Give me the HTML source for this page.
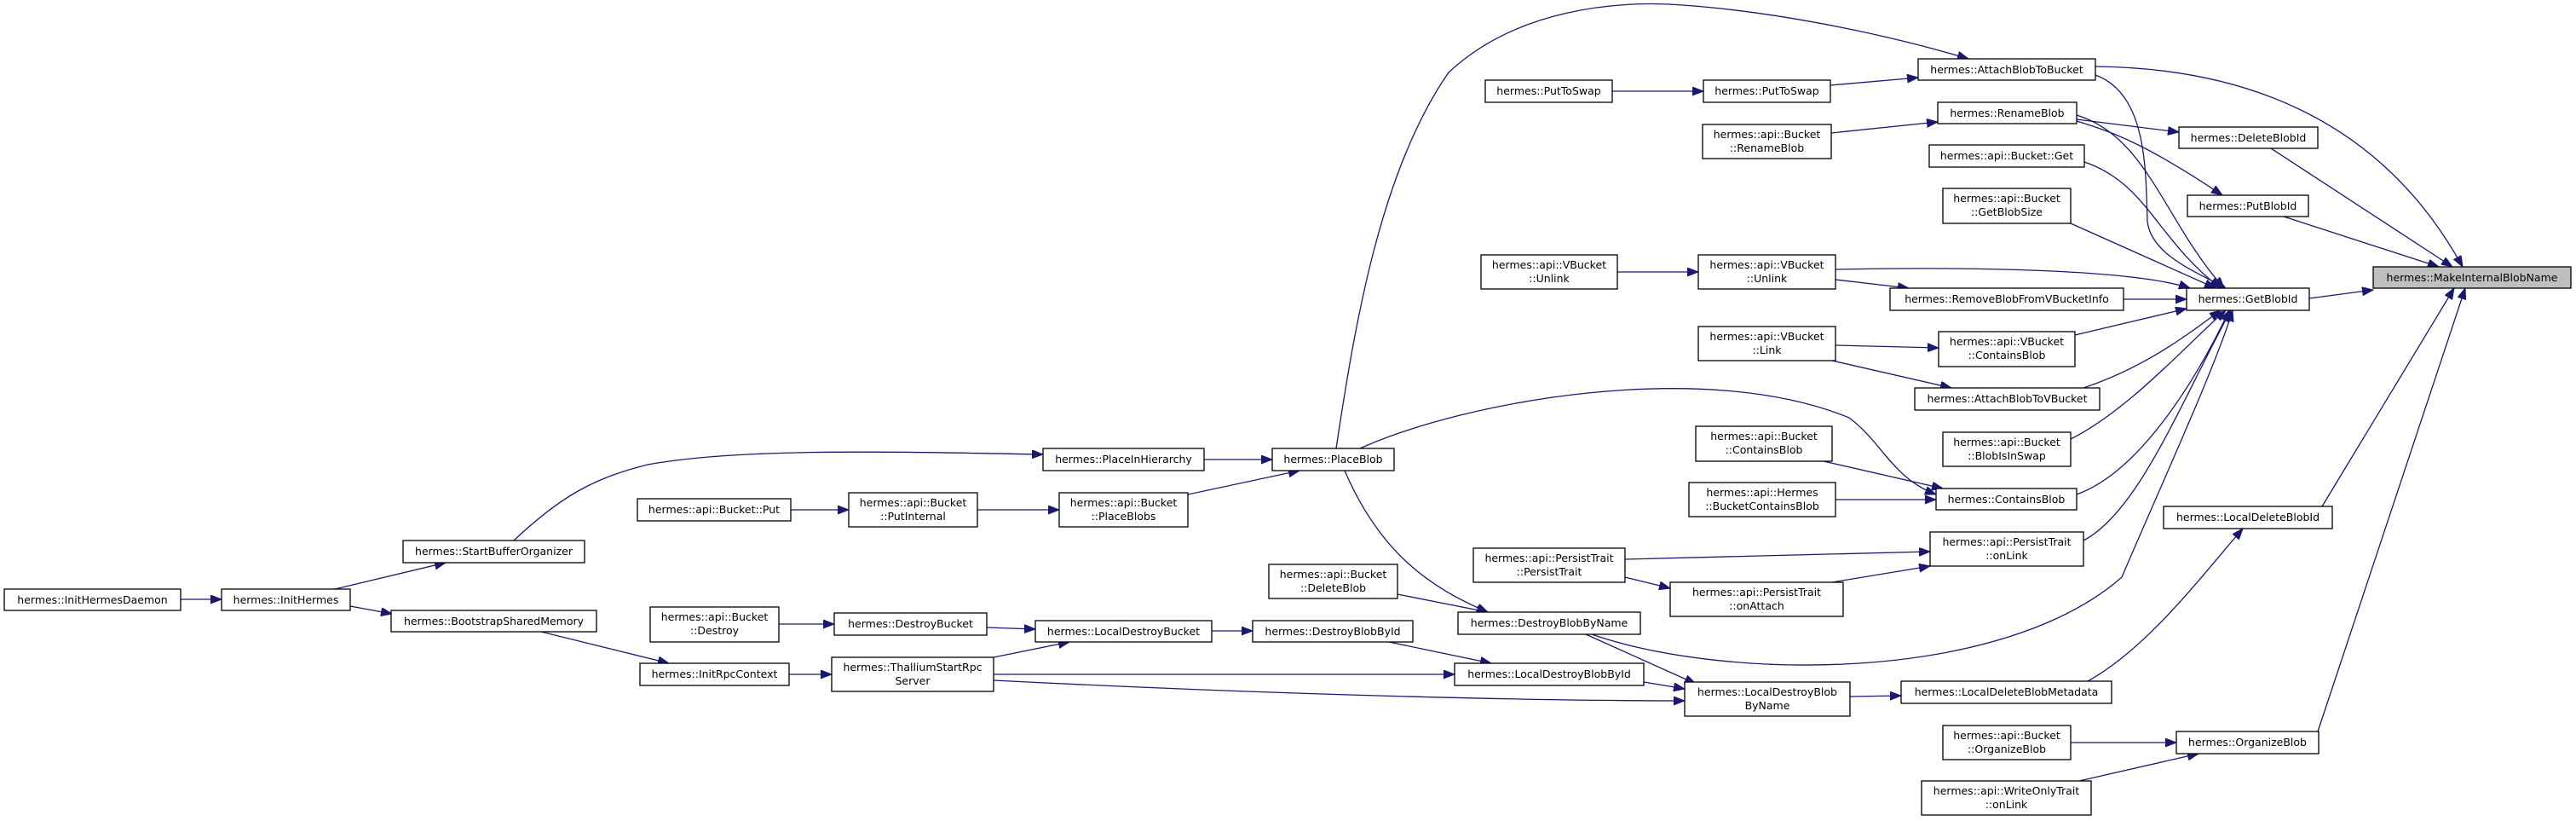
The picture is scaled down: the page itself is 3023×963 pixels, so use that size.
<!DOCTYPE html>
<html><head><meta charset="utf-8"><style>
html,body{margin:0;padding:0;background:#fff;}
svg{display:block}
text{font-family:"DejaVu Sans","Liberation Sans",sans-serif;font-size:12.5px;fill:#000;text-anchor:middle}
rect{fill:#fff;stroke:#000;stroke-width:1.3}
path{fill:none;stroke:#191970;stroke-width:1.3}
</style></head><body>
<svg width="3023" height="963" viewBox="0 0 3023 963" xmlns="http://www.w3.org/2000/svg">
<defs><marker id="a" markerUnits="userSpaceOnUse" markerWidth="14" markerHeight="12" refX="13" refY="5" orient="auto"><path d="M0,0 L13,5 L0,10 Z" style="fill:#191970;stroke:#191970;stroke-width:1"/></marker></defs>
<g marker-end="url(#a)">
<path d="M212,703 L260,703"/>
<path d="M393,691 L523,660"/>
<path d="M411,711 L460,720"/>
<path d="M635,741 L785,778"/>
<path d="M603,634 C660,580 700,560 760,545 C870,525 1050,530 1224,533"/>
<path d="M926,791 L976,791"/>
<path d="M928,598 L996,598"/>
<path d="M1147,598 L1243,598"/>
<path d="M1394,580 L1525,552"/>
<path d="M1413,539 L1493,539"/>
<path d="M914,732 L979,732"/>
<path d="M1158,736 L1215,738"/>
<path d="M1166,771 L1255,753"/>
<path d="M1166,791 L1707,791"/>
<path d="M1166,798 C1500,815 1800,822 1977,822"/>
<path d="M1422,740 L1470,740"/>
<path d="M1630,753 L1750,778"/>
<path d="M1929,800 L1977,808"/>
<path d="M1640,697 L1746,718"/>
<path d="M1578,552 C1620,650 1680,690 1746,718"/>
<path d="M1861,744 L1990,802"/>
<path d="M1868,744 C2030,800 2350,800 2490,677 C2540,560 2600,430 2620,364"/>
<path d="M1907,656 L2265,647"/>
<path d="M1907,677 L1960,690"/>
<path d="M2150,683 L2265,664"/>
<path d="M1568,526 C1590,380 1620,200 1700,85 C1780,10 1900,0 1975,6 C2100,15 2230,45 2310,69"/>
<path d="M1596,526 C1720,470 2000,420 2170,490 C2210,520 2220,560 2272,580"/>
<path d="M1892,107 L1999,107"/>
<path d="M2148,100 L2251,91"/>
<path d="M2149,156 L2274,143"/>
<path d="M1898,319 L1993,319"/>
<path d="M2154,316 C2300,313 2500,315 2570,338"/>
<path d="M2154,328 L2240,338"/>
<path d="M2154,405 L2275,408"/>
<path d="M2150,423 L2290,455"/>
<path d="M2140,541 L2280,573"/>
<path d="M2154,586 L2272,586"/>
<path d="M2459,88 C2520,110 2518,200 2520,260 C2525,300 2580,320 2612,338"/>
<path d="M2437,135 C2520,160 2540,260 2610,338"/>
<path d="M2437,140 L2557,155"/>
<path d="M2437,142 C2480,155 2520,170 2608,229"/>
<path d="M2446,190 C2520,215 2530,280 2606,338"/>
<path d="M2430,262 L2600,338"/>
<path d="M2492,351 L2566,351"/>
<path d="M2435,393 L2566,362"/>
<path d="M2445,455 C2520,430 2570,390 2606,364"/>
<path d="M2430,515 C2500,480 2570,400 2612,364"/>
<path d="M2437,580 C2520,550 2590,420 2616,364"/>
<path d="M2445,634 C2510,600 2560,470 2618,364"/>
<path d="M2171,817 L2231,816"/>
<path d="M2450,799 C2520,760 2580,680 2632,620"/>
<path d="M2430,871 L2554,871"/>
<path d="M2440,916 L2580,884"/>
<path d="M2459,78 C2650,80 2800,150 2890,313"/>
<path d="M2665,174 L2878,313"/>
<path d="M2680,254 L2862,313"/>
<path d="M2710,350 L2785,340"/>
<path d="M2725,594 L2880,338"/>
<path d="M2720,858 L2893,338"/>
</g>
<g>
<rect x="5" y="691" width="207" height="25"/><text x="108.5" y="708">hermes::InitHermesDaemon</text>
<rect x="260" y="691" width="151" height="25"/><text x="335.5" y="708">hermes::InitHermes</text>
<rect x="473" y="634" width="213" height="26"/><text x="579.5" y="651">hermes::StartBufferOrganizer</text>
<rect x="459" y="716" width="241" height="25"/><text x="579.5" y="733">hermes::BootstrapSharedMemory</text>
<rect x="748" y="585" width="180" height="26"/><text x="838" y="602">hermes::api::Bucket::Put</text>
<rect x="763" y="712" width="151" height="41"/><text x="838.5" y="728">hermes::api::Bucket</text><text x="838.5" y="744">::Destroy</text>
<rect x="751" y="778" width="175" height="26"/><text x="838.5" y="795">hermes::InitRpcContext</text>
<rect x="996" y="578" width="151" height="40"/><text x="1071.5" y="594">hermes::api::Bucket</text><text x="1071.5" y="610">::PutInternal</text>
<rect x="979" y="719" width="179" height="26"/><text x="1068.5" y="736">hermes::DestroyBucket</text>
<rect x="976" y="771" width="190" height="40"/><text x="1071" y="787">hermes::ThalliumStartRpc</text><text x="1071" y="803">Server</text>
<rect x="1224" y="526" width="189" height="26"/><text x="1318.5" y="543">hermes::PlaceInHierarchy</text>
<rect x="1243" y="578" width="151" height="40"/><text x="1318.5" y="594">hermes::api::Bucket</text><text x="1318.5" y="610">::PlaceBlobs</text>
<rect x="1215" y="728" width="207" height="25"/><text x="1318.5" y="745">hermes::LocalDestroyBucket</text>
<rect x="1493" y="526" width="143" height="26"/><text x="1564.5" y="543">hermes::PlaceBlob</text>
<rect x="1489" y="662" width="151" height="40"/><text x="1564.5" y="678">hermes::api::Bucket</text><text x="1564.5" y="694">::DeleteBlob</text>
<rect x="1470" y="728" width="188" height="25"/><text x="1564" y="745">hermes::DestroyBlobById</text>
<rect x="1729" y="643" width="178" height="40"/><text x="1818" y="659">hermes::api::PersistTrait</text><text x="1818" y="675">::PersistTrait</text>
<rect x="1711" y="718" width="214" height="26"/><text x="1818" y="735">hermes::DestroyBlobByName</text>
<rect x="1707" y="778" width="222" height="26"/><text x="1818" y="795">hermes::LocalDestroyBlobById</text>
<rect x="1743" y="94" width="149" height="26"/><text x="1817.5" y="111">hermes::PutToSwap</text>
<rect x="1738" y="299" width="160" height="40"/><text x="1818" y="315">hermes::api::VBucket</text><text x="1818" y="331">::Unlink</text>
<rect x="1999" y="94" width="149" height="26"/><text x="2073.5" y="111">hermes::PutToSwap</text>
<rect x="1998" y="146" width="151" height="40"/><text x="2073.5" y="162">hermes::api::Bucket</text><text x="2073.5" y="178">::RenameBlob</text>
<rect x="1993" y="299" width="161" height="40"/><text x="2073.5" y="315">hermes::api::VBucket</text><text x="2073.5" y="331">::Unlink</text>
<rect x="1993" y="383" width="161" height="40"/><text x="2073.5" y="399">hermes::api::VBucket</text><text x="2073.5" y="415">::Link</text>
<rect x="1990" y="500" width="160" height="41"/><text x="2070" y="516">hermes::api::Bucket</text><text x="2070" y="532">::ContainsBlob</text>
<rect x="1982" y="566" width="172" height="40"/><text x="2068" y="582">hermes::api::Hermes</text><text x="2068" y="598">::BucketContainsBlob</text>
<rect x="1960" y="683" width="203" height="40"/><text x="2061.5" y="699">hermes::api::PersistTrait</text><text x="2061.5" y="715">::onAttach</text>
<rect x="1977" y="800" width="194" height="40"/><text x="2074" y="816">hermes::LocalDestroyBlob</text><text x="2074" y="832">ByName</text>
<rect x="2251" y="69" width="208" height="25"/><text x="2355" y="86">hermes::AttachBlobToBucket</text>
<rect x="2274" y="120" width="163" height="25"/><text x="2355.5" y="137">hermes::RenameBlob</text>
<rect x="2264" y="170" width="182" height="26"/><text x="2355" y="187">hermes::api::Bucket::Get</text>
<rect x="2280" y="221" width="150" height="41"/><text x="2355" y="237">hermes::api::Bucket</text><text x="2355" y="253">::GetBlobSize</text>
<rect x="2218" y="338" width="274" height="26"/><text x="2355" y="355">hermes::RemoveBlobFromVBucketInfo</text>
<rect x="2275" y="389" width="160" height="41"/><text x="2355" y="405">hermes::api::VBucket</text><text x="2355" y="421">::ContainsBlob</text>
<rect x="2247" y="455" width="217" height="26"/><text x="2355.5" y="472">hermes::AttachBlobToVBucket</text>
<rect x="2280" y="507" width="150" height="40"/><text x="2355" y="523">hermes::api::Bucket</text><text x="2355" y="539">::BlobIsInSwap</text>
<rect x="2272" y="573" width="165" height="25"/><text x="2354.5" y="590">hermes::ContainsBlob</text>
<rect x="2265" y="624" width="180" height="40"/><text x="2355" y="640">hermes::api::PersistTrait</text><text x="2355" y="656">::onLink</text>
<rect x="2231" y="799" width="247" height="26"/><text x="2354.5" y="816">hermes::LocalDeleteBlobMetadata</text>
<rect x="2280" y="851" width="150" height="40"/><text x="2355" y="867">hermes::api::Bucket</text><text x="2355" y="883">::OrganizeBlob</text>
<rect x="2255" y="916" width="199" height="40"/><text x="2354.5" y="932">hermes::api::WriteOnlyTrait</text><text x="2354.5" y="948">::onLink</text>
<rect x="2557" y="149" width="163" height="25"/><text x="2638.5" y="166">hermes::DeleteBlobId</text>
<rect x="2567" y="229" width="142" height="25"/><text x="2638" y="246">hermes::PutBlobId</text>
<rect x="2566" y="338" width="144" height="26"/><text x="2638" y="355">hermes::GetBlobId</text>
<rect x="2539" y="594" width="198" height="26"/><text x="2638" y="611">hermes::LocalDeleteBlobId</text>
<rect x="2554" y="858" width="167" height="26"/><text x="2637.5" y="875">hermes::OrganizeBlob</text>
<rect x="2785" y="313" width="232" height="25" style="fill:#bfbfbf"/><text x="2901" y="330">hermes::MakeInternalBlobName</text>
</g>
</svg>
</body></html>
